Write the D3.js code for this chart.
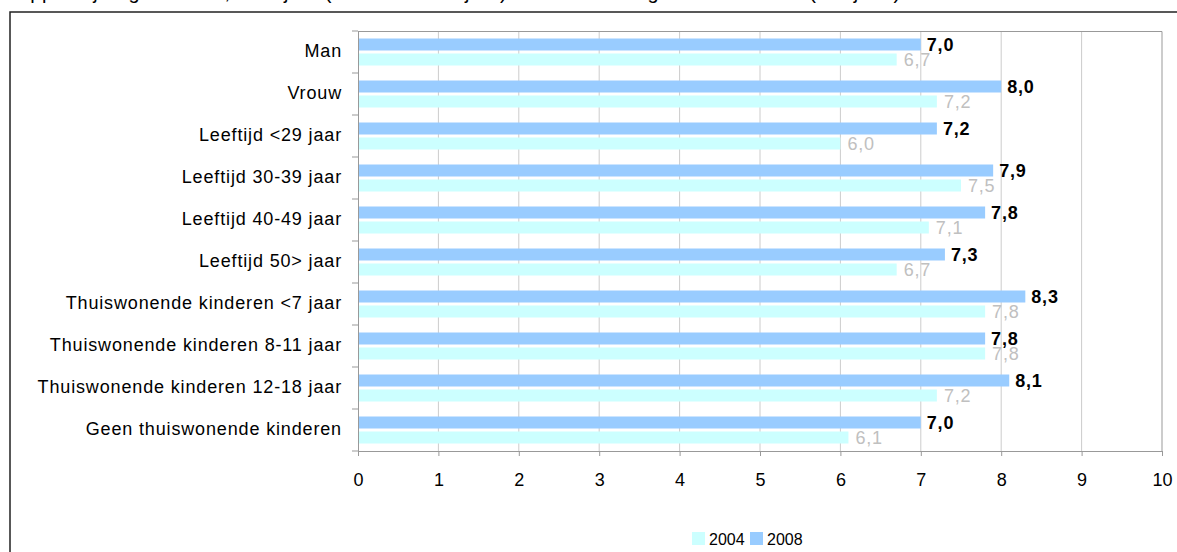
<!DOCTYPE html>
<html>
<head>
<meta charset="utf-8">
<script src="https://cdn.jsdelivr.net/npm/d3@7"></script>
<style>
    body { margin: 0; background: #fff; }
    svg { display: block; font-family: Arial, "Liberation Sans", sans-serif; }
</style>
</head>
<body>
<div id="chart"></div>
<script>
var categories = [
        "Man",
        "Vrouw",
        "Leeftijd <29 jaar",
        "Leeftijd 30-39 jaar",
        "Leeftijd 40-49 jaar",
        "Leeftijd 50> jaar",
        "Thuiswonende kinderen <7 jaar",
        "Thuiswonende kinderen 8-11 jaar",
        "Thuiswonende kinderen 12-18 jaar",
        "Geen thuiswonende kinderen"
    ],
    values2008 = [7.0, 8.0, 7.2, 7.9, 7.8, 7.3, 8.3, 7.8, 8.1, 7.0],
    values2004 = [6.7, 7.2, 6.0, 7.5, 7.1, 6.7, 7.8, 7.8, 7.2, 6.1],
    xTicks = [0, 1, 2, 3, 4, 5, 6, 7, 8, 9, 10],
    legendYears = ["2004", "2008"];

var color2008 = "#99ccff",
    color2004 = "#ccffff";

var width = 1177,
    height = 552,
    margin = { top: 31, right: 15, bottom: 101, left: 358 },
    innerW = width - margin.left - margin.right,
    innerH = height - margin.top - margin.bottom;

var svg = d3.select("#chart").append("svg")
    .attr("width", width)
    .attr("height", height);

// title, mostly cut off at the top of the picture
svg.append("text")
    .attr("x", 4)
    .attr("y", -1)
    .attr("font-size", 20)
    .attr("letter-spacing", 0.4)
    .attr("fill", "#000")
    .text("Rapportcijfer gemiddeld, naar jaar (2004 en 2008 jaar) en naar achtergrondkenmerken (in cijfers)");

// outer chart frame
svg.append("rect")
    .attr("x", 10)
    .attr("y", 12)
    .attr("width", 1300)
    .attr("height", 700)
    .attr("fill", "none")
    .attr("stroke", "#222")
    .attr("stroke-width", 1.5);

var g = svg.append("g")
    .attr("transform", "translate(" + margin.left + "," + margin.top + ")");

var rows = categories.map(function (c, i) {
    return { cat: c, v2008: values2008[i], v2004: values2004[i] };
});

var x = d3.scaleLinear()
        .domain([0, 10])
        .range([0, innerW]),
    y = d3.scaleBand()
        .domain(categories)
        .range([0, innerH]),
    ySub = d3.scaleBand()
        .domain(["2008", "2004"])
        .range([0, y.bandwidth()])
        .paddingInner(0.2)
        .paddingOuter(0.5);

// gridlines
g.append("g")
    .selectAll("line")
    .data(xTicks.slice(1, -1))
    .enter().append("line")
    .attr("x1", function (d) { return x(d); })
    .attr("x2", function (d) { return x(d); })
    .attr("y1", 0)
    .attr("y2", innerH)
    .attr("stroke", "#cccccc");

// plot area border (top and right)
g.append("path")
    .attr("d", "M0,0.5H" + x(10) + "V" + innerH)
    .attr("fill", "none")
    .attr("stroke", "#999");

// bars
var groups = g.append("g")
    .selectAll("g")
    .data(rows)
    .enter().append("g")
    .attr("transform", function (d) { return "translate(0," + y(d.cat) + ")"; });

groups.append("rect")
    .attr("x", 0)
    .attr("y", ySub("2008"))
    .attr("width", function (d) { return x(d.v2008) - x(0); })
    .attr("height", ySub.bandwidth())
    .attr("fill", color2008);

groups.append("rect")
    .attr("x", 0)
    .attr("y", ySub("2004"))
    .attr("width", function (d) { return x(d.v2004) - x(0); })
    .attr("height", ySub.bandwidth())
    .attr("fill", color2004);

groups.append("text")
    .attr("x", function (d) { return x(d.v2008) + 6; })
    .attr("y", ySub("2008") + ySub.bandwidth() / 2)
    .attr("dy", "0.35em")
    .attr("font-size", 18)
    .attr("letter-spacing", 0.8)
    .attr("font-weight", "bold")
    .attr("fill", "#000")
    .text(function (d) { return d3.format(".1f")(d.v2008).replace(".", ","); });

groups.append("text")
    .attr("x", function (d) { return x(d.v2004) + 7; })
    .attr("y", ySub("2004") + ySub.bandwidth() / 2)
    .attr("dy", "0.35em")
    .attr("font-size", 18)
    .attr("letter-spacing", 0.8)
    .attr("fill", "#c0c0c0")
    .text(function (d) { return d3.format(".1f")(d.v2004).replace(".", ","); });

// y axis
var yAxis = g.append("g")
    .call(d3.axisLeft(y).tickSize(0).tickPadding(16));

yAxis.select(".domain").attr("stroke", "#999");
yAxis.selectAll("text")
    .attr("font-size", 18)
    .attr("letter-spacing", 0.85)
    .attr("fill", "#000")
    .attr("dy", "0.25em");

// category boundary ticks
g.append("g")
    .selectAll("line")
    .data(categories.map(function (c) { return y(c); }).concat([innerH]))
    .enter().append("line")
    .attr("x1", -6)
    .attr("x2", 0)
    .attr("y1", function (d) { return d; })
    .attr("y2", function (d) { return d; })
    .attr("stroke", "#999");

// x axis
var xAxis = g.append("g")
    .attr("transform", "translate(0," + innerH + ")")
    .call(d3.axisBottom(x).tickValues(xTicks).tickSize(5).tickPadding(17).tickFormat(d3.format("d")));

xAxis.select(".domain").attr("stroke", "#999");
xAxis.selectAll(".tick line").attr("stroke", "#999");
xAxis.selectAll("text")
    .attr("font-size", 18)
    .attr("fill", "#000");

// legend
var legend = svg.append("g")
        .attr("transform", "translate(692,532)"),
    legendColor = d3.scaleOrdinal()
        .domain(legendYears)
        .range([color2004, color2008]),
    legendItems = legend.selectAll("g")
        .data(legendYears)
        .enter().append("g")
        .attr("transform", function (d, i) { return "translate(" + (i * 58) + ",0)"; });

legendItems.append("rect")
    .attr("width", 13)
    .attr("height", 13)
    .attr("fill", function (d) { return legendColor(d); });

legendItems.append("text")
    .attr("x", 17)
    .attr("y", 7)
    .attr("dy", "0.35em")
    .attr("font-size", 16)
    .attr("fill", "#000")
    .text(function (d) { return d; });
</script>
</body>
</html>
